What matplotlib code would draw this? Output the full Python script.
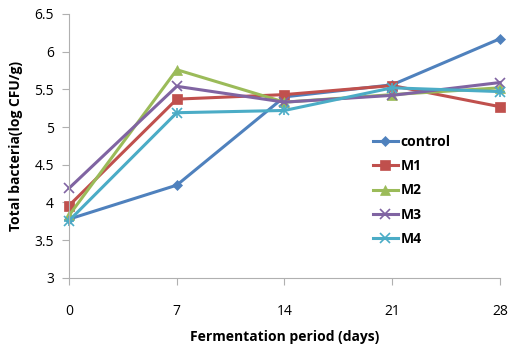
import matplotlib
matplotlib.use("Agg")
import matplotlib.pyplot as plt

days = [0, 7, 14, 21, 28]
series_names = ["control", "M1", "M2", "M3", "M4"]
control = [3.78, 4.23, 5.40, 5.56, 6.17]
m1 = [3.96, 5.37, 5.43, 5.55, 5.27]
m2 = [3.83, 5.76, 5.33, 5.43, 5.52]
m3 = [4.19, 5.54, 5.33, 5.42, 5.59]
m4 = [3.76, 5.19, 5.22, 5.52, 5.47]
yticks = [3, 3.5, 4, 4.5, 5, 5.5, 6, 6.5]
ytick_labels = ["3", "3.5", "4", "4.5", "5", "5.5", "6", "6.5"]

colors = ["#4F81BD", "#C0504D", "#9BBB59", "#8064A2", "#4BACC6"]
markers = ["D", "s", "^", "x", "x"]
msizes = [5, 7, 7, 7, 7]

plt.rcParams['font.family'] = ['Open Sans', 'DejaVu Sans']
fig = plt.figure(figsize=(5.08, 3.47), dpi=100)
ax = fig.add_axes([0.136, 0.199, 0.848, 0.761])

for name, vals, c, m, ms in zip(series_names, [control, m1, m2, m3, m4], colors, markers, msizes):
    ax.plot(days, vals, color=c, marker=m, markersize=ms, linewidth=2.2, label=name,
            markeredgewidth=1.2 if m == "x" else 0.5, markeredgecolor=c)
# asterisk style for M4
ax.plot(days, m4, linestyle='none', marker='+', markersize=7, color=colors[4], markeredgewidth=1.2)

ax.set_xlim(0, 28)
ax.set_ylim(3, 6.5)
ax.set_xticks(days)
ax.set_xticklabels([str(d) for d in days], fontsize=10)
ax.set_yticks(yticks)
ax.set_yticklabels(ytick_labels, fontsize=10)
for s in ["top", "right"]:
    ax.spines[s].set_visible(False)
for s in ["left", "bottom"]:
    ax.spines[s].set_color("#b0b0b0")
ax.tick_params(axis='both', color="#b0b0b0", length=5, direction='out')
ax.tick_params(axis='x', pad=14)
ax.tick_params(axis='y', pad=6)
for line in ax.lines:
    line.set_clip_on(False)

ax.set_xlabel("Fermentation period (days)", fontsize=10, fontweight='bold', labelpad=8)
ax.set_ylabel("Total bacteria(log CFU/g)", fontsize=10, fontweight='bold', labelpad=8)

leg = ax.legend(loc='upper left', bbox_to_anchor=(0.676, 0.59), frameon=False,
                prop={'weight': 'bold', 'size': 10}, handlelength=1.8, labelspacing=0.75,
                handletextpad=0.2)

fig.savefig("out.png", dpi=100)
